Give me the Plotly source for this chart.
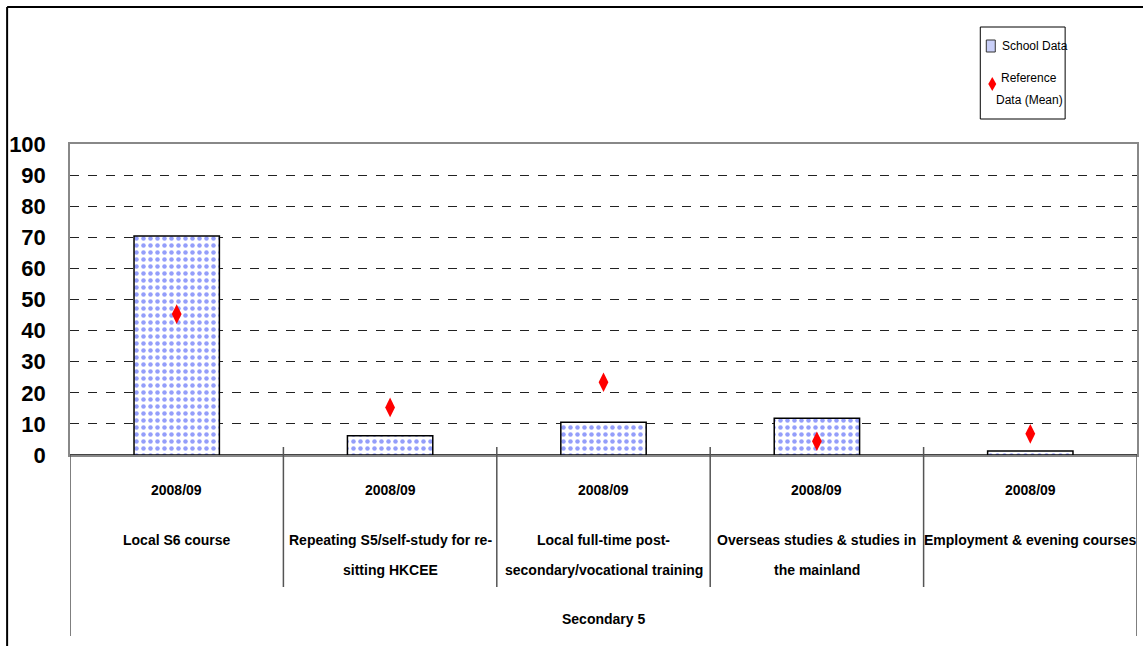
import plotly.graph_objects as go

# Post-S5 destinations, Secondary 5 cohort
year_label = "2008/09"
categories = [
    "Local S6 course",
    "Repeating S5/self-study for re-<br>sitting HKCEE",
    "Local full-time post-<br>secondary/vocational training",
    "Overseas studies & studies in<br>the mainland",
    "Employment & evening courses",
]
school_data = [70.4, 6.2, 10.5, 11.8, 1.3]
reference_mean = [45.3, 15.3, 23.4, 4.4, 6.8]
group_label = "Secondary 5"
legend_names = ["School Data", "Reference<br>Data (Mean)"]
y_ticks = list(range(0, 101, 10))

FONT = "Liberation Sans, Arial, sans-serif"
W, H = 1143, 646
ML, MR, MT, MB = 70, 4, 144, 191
PW, PH = W - ML - MR, H - MT - MB


def px_x(p):
    """pixel column -> paper x"""
    return (p - ML) / PW


def px_y(p):
    """pixel row -> paper y"""
    return (H - MB - p) / PH


x_pos = list(range(len(categories)))
BAR_BLUE = "#2a3ef5"

fig = go.Figure()

fig.add_trace(go.Bar(
    x=x_pos, y=school_data, name=legend_names[0],
    marker=dict(
        color="white",
        line=dict(color="black", width=1.5),
        pattern=dict(shape=".", fgcolor=BAR_BLUE, bgcolor="white",
                     size=7, solidity=0.33),
    ),
    width=0.4, showlegend=False,
))

fig.add_trace(go.Scatter(
    x=x_pos, y=reference_mean, name=legend_names[1],
    mode="markers",
    marker=dict(symbol="diamond-tall", color="#ff0000", size=14,
                line=dict(width=0)),
    showlegend=False,
))

label_font = dict(family=FONT, size=14, color="black")

# Category table under the plot
annotations = []
for i, cat in enumerate(categories):
    annotations.append(dict(x=i, y=px_y(490), xref="x", yref="paper",
                            text="<b>%s</b>" % year_label, showarrow=False,
                            font=label_font, xanchor="center",
                            yanchor="middle"))
    for k, line in enumerate(cat.split("<br>")):
        annotations.append(dict(x=i, y=px_y(540 + 30 * k), xref="x",
                                yref="paper", text="<b>%s</b>" % line,
                                showarrow=False, font=label_font,
                                xanchor="center", yanchor="middle"))
annotations.append(dict(x=2, y=px_y(619), xref="x", yref="paper",
                        text="<b>%s</b>" % group_label, showarrow=False,
                        font=label_font, xanchor="center", yanchor="middle"))

shapes = []
# separators between categories
for i in range(len(categories) - 1):
    shapes.append(dict(type="line", xref="x", yref="paper",
                       x0=i + 0.5, x1=i + 0.5, y0=px_y(447), y1=px_y(587),
                       line=dict(color="#555555", width=1.5)))
# outer table edges
for xv in (-0.5, len(categories) - 0.5):
    shapes.append(dict(type="line", xref="x", yref="paper",
                       x0=xv, x1=xv, y0=0, y1=px_y(636),
                       line=dict(color="#555555", width=1.5)))
# outer chart frame
shapes.append(dict(type="line", xref="paper", yref="paper",
                   x0=px_x(7), x1=px_x(1150), y0=px_y(7), y1=px_y(7),
                   line=dict(color="black", width=2)))
shapes.append(dict(type="line", xref="paper", yref="paper",
                   x0=px_x(7), x1=px_x(7), y0=px_y(7), y1=px_y(660),
                   line=dict(color="black", width=2)))

# legend box
shapes.append(dict(type="rect", xref="paper", yref="paper",
                   x0=px_x(982), x1=px_x(1067), y0=px_y(27), y1=px_y(119),
                   line=dict(color="black", width=1), fillcolor="white",
                   layer="above"))
shapes.append(dict(type="rect", xref="paper", yref="paper",
                   x0=px_x(988), x1=px_x(997), y0=px_y(40), y1=px_y(52),
                   line=dict(color="#333333", width=1), fillcolor="#c9cff8",
                   layer="above"))
dx, dy = 994, 84
shapes.append(dict(type="path", xref="paper", yref="paper",
                   path="M %f %f L %f %f L %f %f L %f %f Z" % (
                       px_x(dx), px_y(dy - 7), px_x(dx + 4), px_y(dy),
                       px_x(dx), px_y(dy + 7), px_x(dx - 4), px_y(dy)),
                   line=dict(width=0), fillcolor="#ff0000", layer="above"))
legend_font = dict(family=FONT, size=12, color="black")
annotations.append(dict(x=px_x(1002), y=px_y(46), xref="paper", yref="paper",
                        text=legend_names[0], showarrow=False,
                        font=legend_font, xanchor="left", yanchor="middle"))
for k, line in enumerate(legend_names[1].split("<br>")):
    annotations.append(dict(x=px_x(1031), y=px_y(78 + 22 * k), xref="paper",
                            yref="paper", text=line, showarrow=False,
                            font=legend_font, xanchor="center",
                            yanchor="middle"))

fig.update_layout(
    width=W, height=H,
    margin=dict(l=ML, r=MR, t=MT, b=MB),
    paper_bgcolor="white", plot_bgcolor="white",
    bargap=0.6,
    showlegend=False,
    xaxis=dict(range=[-0.5, len(categories) - 0.5], showticklabels=False,
               ticks="", showgrid=False, zeroline=False,
               showline=True, mirror=True, linecolor="#888888", linewidth=1.5),
    yaxis=dict(range=[0, 100], tickvals=y_ticks,
               ticktext=["<b>%d</b>" % v for v in y_ticks],
               tickfont=dict(family=FONT, size=22, color="black"),
               showgrid=True, gridcolor="#222222", griddash="dash",
               gridwidth=1, zeroline=True, zerolinecolor="#444444",
               zerolinewidth=2, showline=True, mirror=True,
               linecolor="#888888", linewidth=1.5, ticks="",
               ticklabelstandoff=18),
    annotations=annotations,
    shapes=shapes,
)

fig.write_html("out.html")
